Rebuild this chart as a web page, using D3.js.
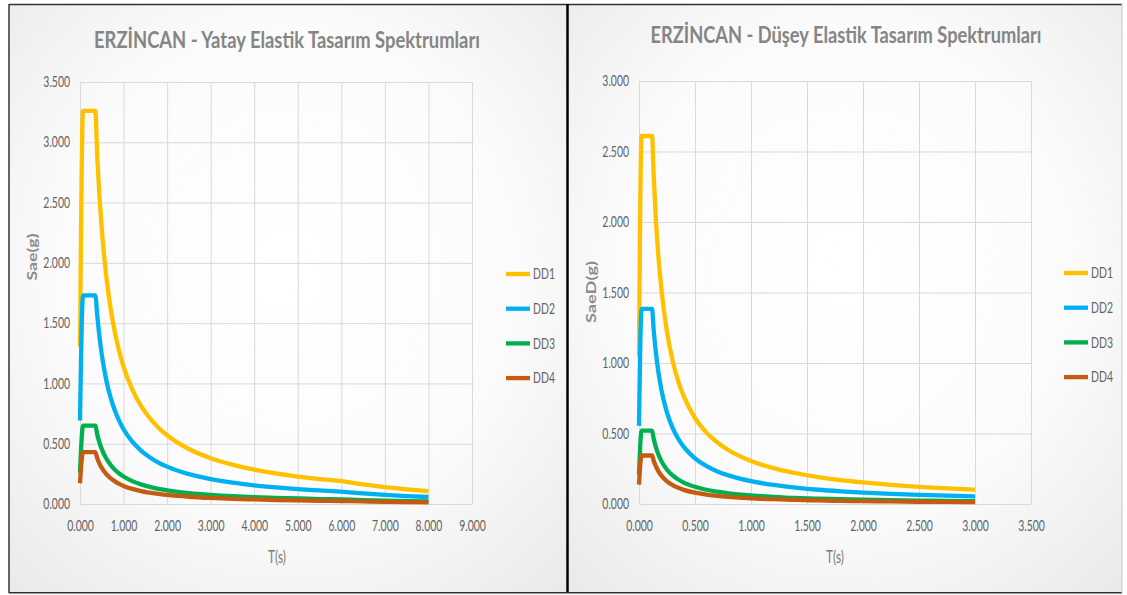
<!DOCTYPE html>
<html>
<head>
<meta charset="utf-8">
<script src="https://cdn.jsdelivr.net/npm/d3@7"></script>
<style>
body { margin: 0; background: #ffffff; }
svg { display: block; }
text { font-family: Lato, "Open Sans", sans-serif; }
</style>
</head>
<body>
<svg id="chart" width="1127" height="595"></svg>
<script>
// values
var seriesNames = ["DD1", "DD2", "DD3", "DD4"];
var seriesColors = ["#ffc000", "#00b0f0", "#00b050", "#c55a11"];

var tYatay = [0, 0.07, 0.35, 0.4, 0.45, 0.5, 0.6, 0.7, 0.8, 0.9, 1.0, 1.2, 1.4, 1.6, 1.8, 2.0, 2.5, 3.0, 3.5, 4.0, 4.5, 5.0, 5.5, 6.0, 6.5, 7.0, 7.5, 8.0];
var yatayDD1 = [1.304, 3.26, 3.26, 2.85, 2.533, 2.28, 1.90, 1.629, 1.425, 1.267, 1.14, 0.95, 0.814, 0.713, 0.633, 0.57, 0.456, 0.38, 0.326, 0.285, 0.253, 0.228, 0.207, 0.19, 0.162, 0.140, 0.122, 0.107];
var yatayDD2 = [0.692, 1.73, 1.73, 1.55, 1.378, 1.24, 1.033, 0.886, 0.775, 0.689, 0.62, 0.517, 0.443, 0.388, 0.344, 0.31, 0.248, 0.207, 0.177, 0.155, 0.138, 0.124, 0.113, 0.103, 0.088, 0.076, 0.066, 0.058];
var yatayDD3 = [0.26, 0.65, 0.65, 0.569, 0.506, 0.455, 0.379, 0.325, 0.284, 0.253, 0.228, 0.19, 0.163, 0.142, 0.126, 0.114, 0.091, 0.076, 0.065, 0.057, 0.051, 0.046, 0.041, 0.038, 0.032, 0.028, 0.024, 0.021];
var yatayDD4 = [0.172, 0.43, 0.43, 0.375, 0.333, 0.30, 0.25, 0.214, 0.188, 0.167, 0.15, 0.125, 0.107, 0.094, 0.083, 0.075, 0.06, 0.05, 0.043, 0.038, 0.033, 0.03, 0.027, 0.025, 0.021, 0.018, 0.016, 0.014];

var tDusey = [0, 0.023, 0.117, 0.13, 0.15, 0.175, 0.2, 0.25, 0.3, 0.35, 0.4, 0.5, 0.6, 0.7, 0.8, 1.0, 1.2, 1.4, 1.6, 1.8, 2.0, 2.25, 2.5, 2.75, 3.0];
var duseyDD1 = [1.044, 2.61, 2.61, 2.35, 2.03, 1.74, 1.525, 1.22, 1.017, 0.871, 0.763, 0.61, 0.508, 0.436, 0.381, 0.305, 0.254, 0.218, 0.191, 0.169, 0.153, 0.136, 0.122, 0.111, 0.102];
var duseyDD2 = [0.554, 1.384, 1.384, 1.246, 1.08, 0.926, 0.81, 0.648, 0.54, 0.463, 0.405, 0.324, 0.27, 0.231, 0.203, 0.162, 0.135, 0.116, 0.101, 0.09, 0.081, 0.072, 0.065, 0.059, 0.054];
var duseyDD3 = [0.208, 0.52, 0.52, 0.468, 0.405, 0.347, 0.304, 0.243, 0.203, 0.174, 0.152, 0.122, 0.101, 0.087, 0.076, 0.061, 0.051, 0.043, 0.038, 0.034, 0.030, 0.027, 0.024, 0.022, 0.020];
var duseyDD4 = [0.138, 0.344, 0.344, 0.31, 0.268, 0.23, 0.201, 0.161, 0.134, 0.115, 0.1, 0.08, 0.067, 0.057, 0.05, 0.04, 0.034, 0.029, 0.025, 0.022, 0.02, 0.018, 0.016, 0.015, 0.013];

var yatayXTicks = [0, 1, 2, 3, 4, 5, 6, 7, 8, 9];
var yatayYTicks = [0, 0.5, 1, 1.5, 2, 2.5, 3, 3.5];
var duseyXTicks = [0, 0.5, 1, 1.5, 2, 2.5, 3, 3.5];
var duseyYTicks = [0, 0.5, 1, 1.5, 2, 2.5, 3];

var svg = d3.select("#chart");
var fmt = d3.format(".3f");

// squeeze text to the narrow look of the original
function squeeze(sel, k) {
  sel.each(function() {
    var w = this.getComputedTextLength();
    d3.select(this).attr("textLength", w * k).attr("lengthAdjust", "spacingAndGlyphs");
  });
}
function fitTo(sel, w) {
  sel.attr("textLength", w).attr("lengthAdjust", "spacingAndGlyphs");
}

var defs = svg.append("defs");
var grad = defs.append("radialGradient").attr("id", "bg").attr("cx", "50%").attr("cy", "45%").attr("r", "75%");
grad.append("stop").attr("offset", "0%").attr("stop-color", "#ffffff");
grad.append("stop").attr("offset", "55%").attr("stop-color", "#fbfbfb");
grad.append("stop").attr("offset", "100%").attr("stop-color", "#e9e9e9");

// panels
svg.append("rect").attr("x", 9).attr("y", 5).attr("width", 558).attr("height", 588).attr("fill", "url(#bg)");
svg.append("rect").attr("x", 568).attr("y", 4).attr("width", 554).attr("height", 589).attr("fill", "url(#bg)");

function drawChart(o) {
  var g = svg.append("g");
  var x = d3.scaleLinear().domain([0, o.xMax]).range([o.left, o.right]);
  var y = d3.scaleLinear().domain([0, o.yMax]).range([o.bottom, o.top]);

  var ya = g.append("g").attr("transform", "translate(" + o.left + ",0)")
    .call(d3.axisLeft(y).tickValues(o.yTicks).tickFormat(fmt).tickSize(-(o.right - o.left)).tickPadding(10));
  var xa = g.append("g").attr("transform", "translate(0," + o.bottom + ")")
    .call(d3.axisBottom(x).tickValues(o.xTicks).tickFormat(fmt).tickSize(-(o.bottom - o.top)).tickPadding(17));
  [ya, xa].forEach(function(a) {
    a.select(".domain").remove();
    a.selectAll(".tick line").attr("stroke", "#d9d9d9").attr("stroke-width", 1);
    a.selectAll(".tick text").attr("fill", "#636363").style("font-size", "14.5px");
    squeeze(a.selectAll(".tick text"), 0.72);
  });

  var line = d3.line().x(function(d) { return x(d[0]); }).y(function(d) { return y(d[1]); }).curve(d3.curveMonotoneX);
  o.series.forEach(function(s, i) {
    g.append("path")
      .datum(o.t.map(function(t, j) { return [t, s[j]]; }))
      .attr("fill", "none")
      .attr("stroke", seriesColors[i])
      .attr("stroke-width", 4.3)
      .attr("stroke-linejoin", "round")
      .attr("d", line);
  });

  // title
  fitTo(g.append("text").attr("x", o.titleX).attr("y", o.titleY).attr("text-anchor", "middle")
    .attr("fill", "#858585").style("font-size", "22px").style("font-weight", "bold").text(o.title), o.titleW);

  // axis titles
  fitTo(g.append("text").attr("x", o.xTitleX).attr("y", o.xTitleY).attr("dy", "0.35em").attr("text-anchor", "middle")
    .attr("fill", "#7a7a7a").style("font-size", "17px").text("T(s)"), 18);
  fitTo(g.append("text").attr("transform", "translate(" + o.yTitleX + "," + o.yTitleY + ") rotate(-90)")
    .attr("dy", "0.35em").attr("text-anchor", "middle").attr("fill", "#8c8c8c")
    .style("font-size", "14px").style("font-weight", "bold").text(o.yTitle), o.yTitleLen);

  // legend
  var lg = g.append("g").selectAll("g").data(seriesNames).join("g")
    .attr("transform", function(d, i) { return "translate(" + o.legendX + "," + (o.legendY + i * 34.7) + ")"; });
  lg.append("line").attr("x1", 0).attr("x2", 24).attr("stroke", function(d, i) { return seriesColors[i]; }).attr("stroke-width", 4.3);
  var lt = lg.append("text").attr("x", 27).attr("dy", "0.36em").attr("fill", "#636363").style("font-size", "14.5px").text(function(d) { return d; });
  squeeze(lt, 0.72);
}

drawChart({
  t: tYatay, series: [yatayDD1, yatayDD2, yatayDD3, yatayDD4],
  xMax: 9, yMax: 3.5, xTicks: yatayXTicks, yTicks: yatayYTicks,
  left: 80, right: 472, top: 82, bottom: 504,
  title: "ERZİNCAN - Yatay Elastik Tasarım Spektrumları", titleX: 287, titleY: 48, titleW: 386,
  yTitle: "Sae(g)", yTitleX: 32, yTitleY: 257, yTitleLen: 47,
  xTitleX: 277, xTitleY: 557,
  legendX: 506, legendY: 274
});

drawChart({
  t: tDusey, series: [duseyDD1, duseyDD2, duseyDD3, duseyDD4],
  xMax: 3.5, yMax: 3, xTicks: duseyXTicks, yTicks: duseyYTicks,
  left: 639, right: 1031, top: 81, bottom: 504,
  title: "ERZİNCAN - Düşey Elastik Tasarım Spektrumları", titleX: 846, titleY: 43, titleW: 391,
  yTitle: "SaeD(g)", yTitleX: 591, yTitleY: 292, yTitleLen: 62,
  xTitleX: 835, xTitleY: 557,
  legendX: 1064, legendY: 273
});

// frame lines
var frame = svg.append("g").attr("fill", "none");
frame.append("line").attr("x1", 9).attr("x2", 1122).attr("y1", 4.5).attr("y2", 4.5).attr("stroke", "#333333").attr("stroke-width", 1.5);
frame.append("line").attr("x1", 9).attr("x2", 9).attr("y1", 4).attr("y2", 593).attr("stroke", "#333333").attr("stroke-width", 1.5);
frame.append("line").attr("x1", 567.5).attr("x2", 567.5).attr("y1", 4).attr("y2", 593).attr("stroke", "#000000").attr("stroke-width", 2.5);
frame.append("line").attr("x1", 9).attr("x2", 1122).attr("y1", 592.8).attr("y2", 592.8).attr("stroke", "#333333").attr("stroke-width", 1.5);
frame.append("line").attr("x1", 1122).attr("x2", 1122).attr("y1", 4).attr("y2", 593).attr("stroke", "#c8c8c8").attr("stroke-width", 1);
</script>
</body>
</html>
